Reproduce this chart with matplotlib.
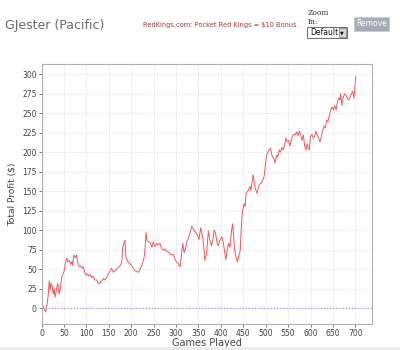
import matplotlib
matplotlib.use("Agg")
import matplotlib.pyplot as plt
from matplotlib.patches import Rectangle

# ----------------------------
# DATA
# ----------------------------
games = [0, 5, 9, 11, 15, 17, 19, 21, 24, 26, 28, 30, 33, 36, 39, 42, 45, 48, 50,
         53, 56, 59, 62, 65, 68, 69, 72, 75, 78, 81, 84, 87, 90, 93, 96, 99, 102,
         105, 109, 112, 115, 119, 123, 126, 129, 132, 135, 138, 141, 145, 149, 153,
         156, 160, 164, 167, 171, 175, 179, 181, 184, 186, 188, 190, 193, 197, 201,
         205, 208, 212, 216, 219, 223, 227, 229, 231, 233, 235, 238, 242, 246, 249,
         253, 257, 260, 264, 268, 272, 275, 279, 283, 286, 290, 294, 298, 301, 305,
         309, 310, 313, 315, 318, 321, 324, 327, 331, 335, 338, 342, 346, 351, 355,
         359, 362, 364, 368, 372, 375, 379, 382, 385, 388, 391, 394, 398, 402, 405,
         409, 411, 414, 417, 420, 424, 426, 428, 430, 432, 435, 437, 440, 443, 445,
         447, 450, 452, 454, 456, 459, 462, 465, 467, 469, 472, 475, 477, 481, 484,
         487, 491, 495, 497, 499, 502, 505, 508, 511, 513, 515, 518, 521, 524, 527,
         530, 533, 536, 539, 542, 545, 548, 551, 554, 557, 560, 563, 566, 569, 572,
         575, 578, 581, 584, 587, 590, 592, 595, 597, 600, 603, 606, 609, 612, 615,
         618, 621, 624, 627, 630, 633, 636, 639, 642, 645, 648, 651, 654, 657, 660,
         663, 666, 667, 670, 673, 676, 679, 682, 685, 688, 691, 694, 697, 699, 701]
profit = [6, 0, -5, -1, 18, 35, 23, 32, 27, 18, 25, 14, 23, 32, 18, 26, 40, 44, 47,
          57, 64, 59, 61, 56, 60, 55, 68, 65, 68, 57, 53, 54, 51, 53, 46, 42, 44,
          41, 43, 39, 41, 36, 36, 32, 31, 34, 35, 38, 36, 39, 44, 48,
          51, 46, 48, 49, 52, 54, 59, 78, 84, 87, 66, 63, 59, 57, 54,
          51, 48, 47, 46, 49, 54, 61, 66, 78, 97, 87, 85, 84, 78, 85,
          79, 83, 81, 83, 76, 74, 76, 73, 72, 70, 68, 69, 62, 59, 57,
          53, 57, 74, 83, 71, 76, 85, 89, 96, 105, 102, 98, 96, 88, 103,
          92, 78, 61, 70, 99, 88, 80, 87, 100, 96, 85, 80, 87, 91, 85,
          70, 62, 74, 83, 78, 100, 108, 96, 78, 70, 63, 59, 67, 74, 96,
          119, 130, 134, 130, 147, 149, 152, 156, 151, 160, 171, 158, 153, 147, 156,
          159, 161, 166, 171, 183, 196, 200, 203, 205, 198, 194, 192, 186, 196, 194,
          203, 200, 206, 203, 209, 218, 213, 215, 208, 215, 221, 223, 222, 226, 221,
          227, 222, 215, 222, 207, 203, 211, 205, 203, 220, 223, 218, 220, 227, 222,
          218, 213, 220, 228, 233, 231, 241, 239, 248, 254, 258, 254, 260, 254, 265,
          269, 267, 275, 260, 270, 275, 273, 269, 267, 270, 275, 278, 269, 284, 297]

x_ticks = [0, 50, 100, 150, 200, 250, 300, 350, 400, 450, 500, 550, 600, 650, 700]
y_ticks = [0, 25, 50, 75, 100, 125, 150, 175, 200, 225, 250, 275, 300]

# ----------------------------
# FIGURE
# ----------------------------
fig = plt.figure(figsize=(4, 3.5), dpi=100)
ax = fig.add_axes([0.104, 0.073, 0.827, 0.744])

ax.plot(games, profit, color="#ec5a5e", linewidth=0.7)
ax.axhline(0, color="#9a9ae0", linestyle=(0, (1, 1.5)), linewidth=0.9)

ax.set_xlim(0, 738)
ax.set_ylim(-21, 313)
ax.set_xticks(x_ticks)
ax.set_yticks(y_ticks)
ax.tick_params(labelsize=5.5, colors="#444444", length=2, width=0.5, pad=1.5)
ax.grid(True, color="#dcdcdc", linestyle=(0, (2, 2)), linewidth=0.5)
for s in ax.spines.values():
    s.set_color("#b0b0b0")
    s.set_linewidth(0.8)

ax.set_xlabel("Games Played", fontsize=7, color="#444444", labelpad=0)
ax.set_ylabel("Total Profit ($)", fontsize=6.5, color="#444444", labelpad=4)

# header widgets
fig.text(0.013, 0.928, "GJester (Pacific)", fontsize=9, color="#6a6a6a",
         va="center")
fig.text(0.358, 0.928, "RedKings.com: Pocket Red Kings = $10 Bonus",
         fontsize=4.8, color="#a03a3a", va="center")
fig.text(0.768, 0.962, "Zoom", fontsize=5.5, family="DejaVu Serif",
         color="#333333", va="center")
fig.text(0.768, 0.937, "In:", fontsize=5.5, family="DejaVu Serif",
         color="#333333", va="center")
fig.patches.append(Rectangle((0.768, 0.891), 0.1, 0.032, transform=fig.transFigure,
                             facecolor="white", edgecolor="#555555", linewidth=0.6))
fig.text(0.775, 0.907, "Default", fontsize=5.5, color="#111111", va="center")
fig.patches.append(Rectangle((0.847, 0.895), 0.017, 0.024, transform=fig.transFigure,
                             facecolor="#d8d8d8", edgecolor="#555555", linewidth=0.4))
fig.text(0.8555, 0.907, "\u25bc", fontsize=3.5, color="#111111", ha="center",
         va="center")
fig.patches.append(Rectangle((0.885, 0.912), 0.088, 0.04, transform=fig.transFigure,
                             facecolor="#a4adb5", edgecolor="#c8cdd2", linewidth=0.6))
fig.text(0.929, 0.932, "Remove", fontsize=5.5, color="white", ha="center",
         va="center")
fig.patches.append(Rectangle((0, 0), 1, 0.010, transform=fig.transFigure,
                             facecolor="#ececec", edgecolor="none"))

plt.savefig("out.png", dpi=100)
